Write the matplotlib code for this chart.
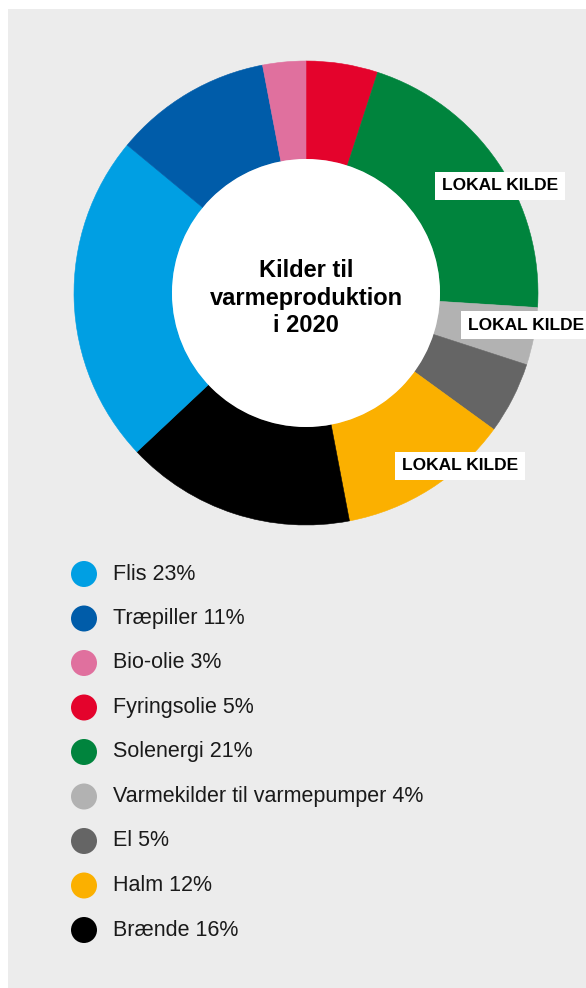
import matplotlib
matplotlib.use("Agg")
import matplotlib.pyplot as plt
from matplotlib.patches import Rectangle, Circle

plt.rcParams['font.family'] = ['Liberation Sans', 'DejaVu Sans']

# Data (legend order)
labels = ['Flis', 'Træpiller', 'Bio-olie', 'Fyringsolie', 'Solenergi',
          'Varmekilder til varmepumper', 'El', 'Halm', 'Brænde']
shares = [23, 11, 3, 5, 21, 4, 5, 12, 16]
colors = ['#009fe3', '#005ca9', '#e0709e', '#e4032c', '#00843d',
          '#b2b2b2', '#656565', '#fbb000', '#000000']
title = 'Kilder til\nvarmeproduktion\ni 2020'
local_tag = 'LOKAL KILDE'

W, H = 586, 988
fig = plt.figure(figsize=(W / 100, H / 100), dpi=100)
fig.patch.set_facecolor('white')
ax = fig.add_axes([0, 0, 1, 1])


def py(y):
    # pixel row (from top) -> data y
    return H - y


# grey panel
ax.add_patch(Rectangle((8, 0), W - 8, H - 9, facecolor='#ececec', edgecolor='none', zorder=0))

# donut starts at 12 o'clock with Fyringsolie and runs clockwise
start = labels.index('Fyringsolie')
order = list(range(start, len(labels))) + list(range(0, start))
cx, cy, r_out, r_in = 306, py(293), 232, 134
wedges, _ = ax.pie([shares[i] for i in order], colors=[colors[i] for i in order],
                   startangle=90, counterclock=False, center=(cx, cy), radius=r_out,
                   wedgeprops=dict(width=r_out - r_in, linewidth=0.4, edgecolor='none'))
for w in wedges:
    w.set_edgecolor(w.get_facecolor())
ax.add_patch(Circle((cx, cy), r_in, facecolor='white', edgecolor='none', zorder=3))

ax.text(cx, py(298), title, ha='center', va='center', fontsize=17, fontweight='bold',
        linespacing=1.27, zorder=4)

# "LOKAL KILDE" tags on the local sources
tag_pos = [(500, 186), (526, 325), (460, 466)]
for tx, ty in tag_pos:
    ax.text(tx, py(ty), local_tag, ha='center', va='center', fontsize=12.5,
            fontweight='bold', zorder=5,
            bbox=dict(boxstyle='square,pad=0.38', facecolor='white', edgecolor='none'))

# legend
for i, (lab, val, col) in enumerate(zip(labels, shares, colors)):
    y = py(574 + i * 44.5)
    ax.add_patch(Circle((84, y), 13, facecolor=col, edgecolor='none', zorder=4))
    ax.text(113, y, f'{lab} {val}%', ha='left', va='center', fontsize=15.5, color='#1a1a1a')

ax.set_xlim(0, W)
ax.set_ylim(0, H)
ax.set_aspect('equal')
ax.axis('off')

fig.savefig('out.png', dpi=100)
